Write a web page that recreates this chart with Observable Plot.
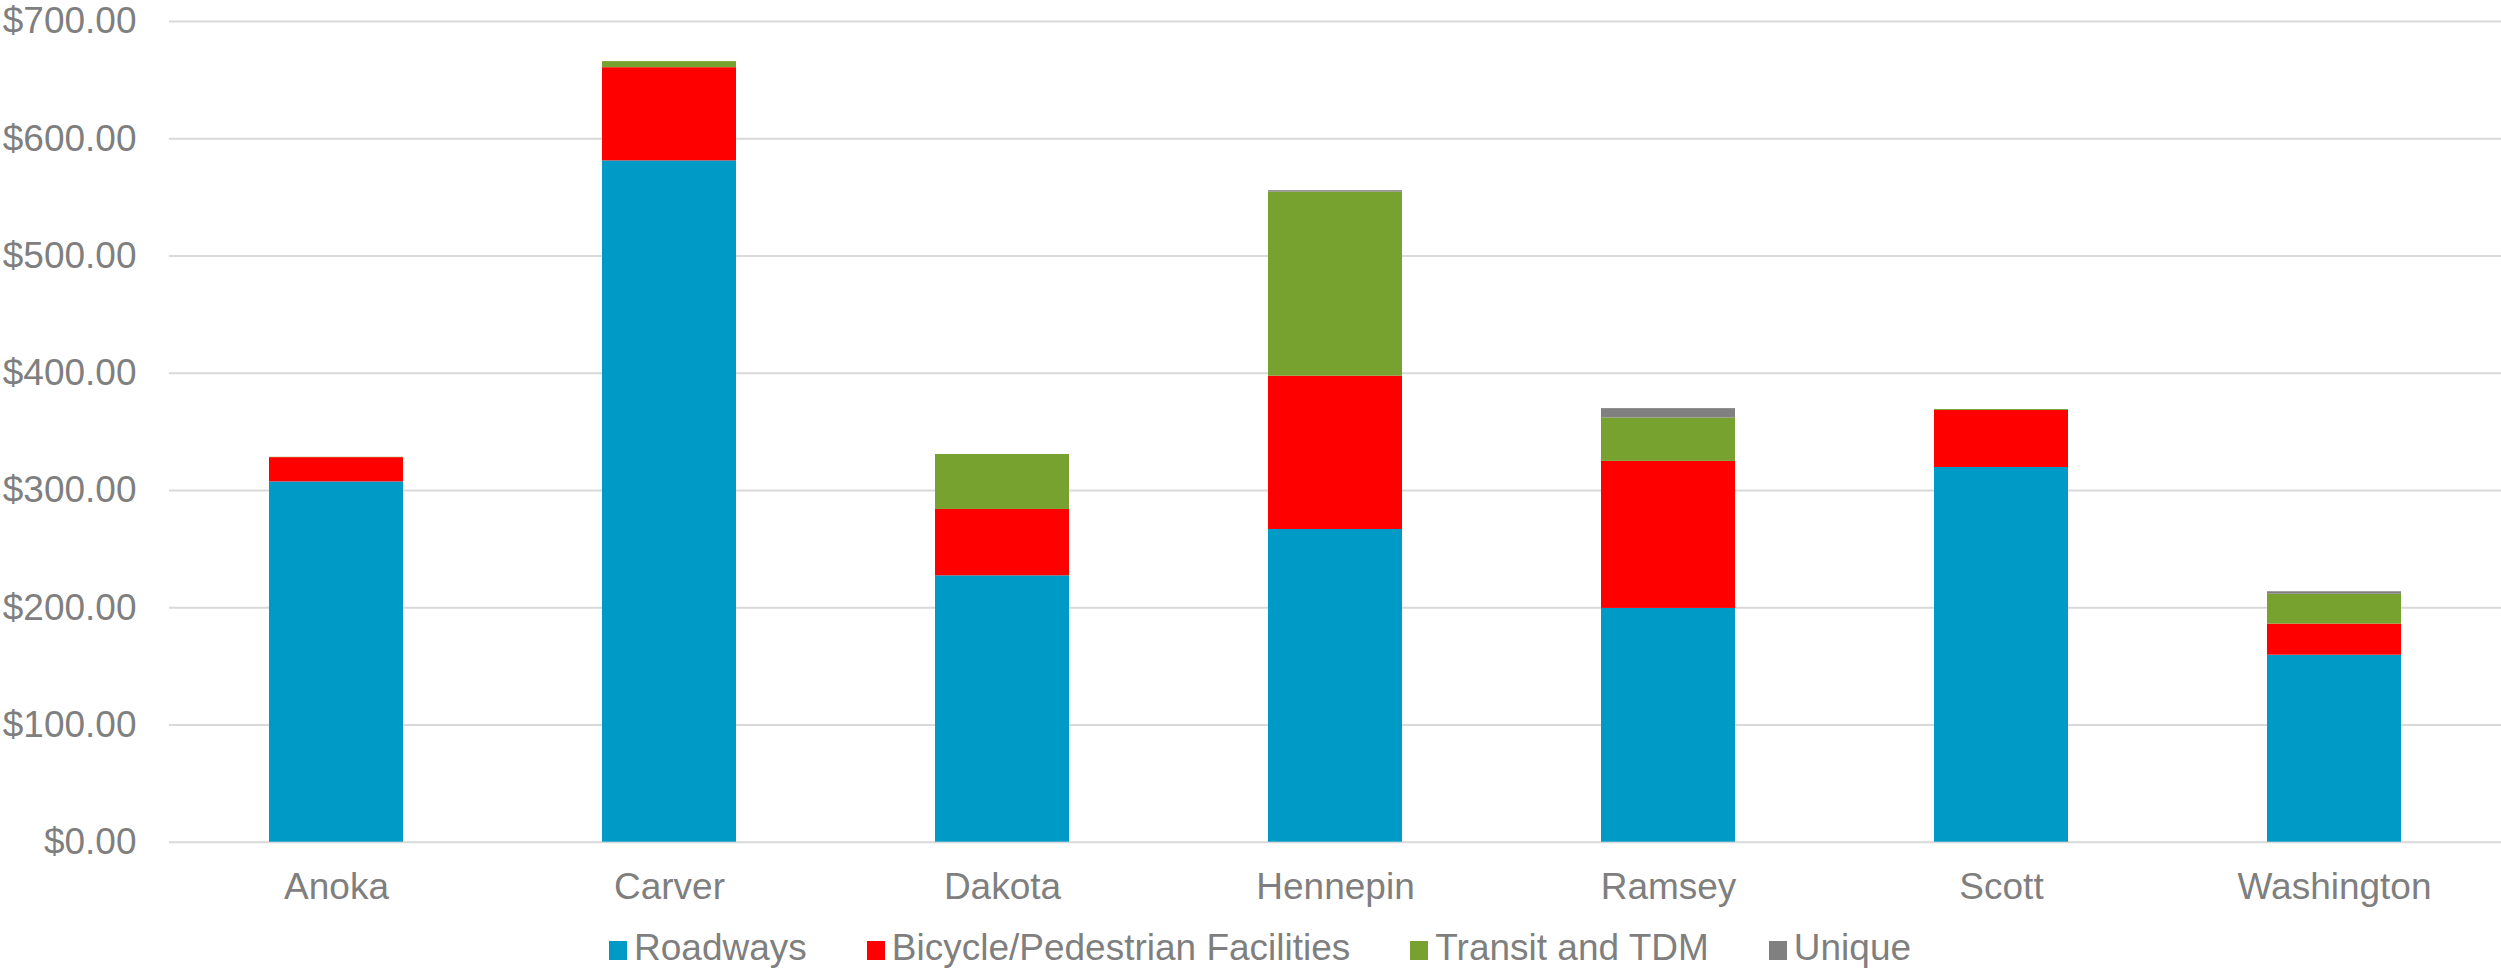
<!DOCTYPE html>
<html>
<head>
<meta charset="utf-8">
<script src="https://cdn.jsdelivr.net/npm/d3@7"></script>
<script src="https://cdn.jsdelivr.net/npm/@observablehq/plot@0.6"></script>
<style>
  html, body { margin: 0; padding: 0; background: #ffffff; }
  #wrap { position: relative; width: 2501px; height: 972px; overflow: hidden; font-family: "Liberation Sans", Arial, sans-serif; }
  #chart svg { display: block; }
  #legend { position: absolute; left: 609px; top: 928.5px; display: flex; align-items: baseline; font-size: 37px; line-height: 37px; color: #7f7f7f; white-space: nowrap; }
  #legend .item { display: inline-block; margin-right: 60px; }
  #legend .sw { display: inline-block; width: 18px; height: 19px; margin-right: 7px; vertical-align: baseline; }
</style>
</head>
<body>
<div id="wrap">
  <div id="chart"></div>
  <div id="legend"></div>
</div>
<script>
const counties = ["Anoka", "Carver", "Dakota", "Hennepin", "Ramsey", "Scott", "Washington"];
const seriesNames = ["Roadways", "Bicycle/Pedestrian Facilities", "Transit and TDM", "Unique"];
const seriesColors = ["#009ac7", "#ff0000", "#78a22f", "#808080"];
const roadways = [307.3, 581.1, 227.2, 266.7, 199.4, 319.6, 159.5];
const bikePed  = [20.7, 79.5, 56.6, 130.8, 125.4, 48.6, 26.5];
const transit  = [0.3, 5.2, 46.9, 157.0, 37.0, 0.8, 25.5];
const unique   = [0, 0, 0, 1.2, 8.0, 0, 2.1];
const yTicks = [0, 100, 200, 300, 400, 500, 600, 700];

const seriesValues = [roadways, bikePed, transit, unique];
const rows = [];
counties.forEach((c, i) => {
  seriesNames.forEach((s, j) => {
    rows.push({county: c, series: s, value: seriesValues[j][i]});
  });
});

const chart = Plot.plot({
  width: 2501,
  height: 915,
  marginLeft: 169,
  marginRight: 0,
  marginTop: 21,
  marginBottom: 73.3,
  style: {fontFamily: "'Liberation Sans', Arial, sans-serif", fontSize: "37px", color: "#7f7f7f", background: "#ffffff"},
  x: {domain: counties, paddingInner: 0.598, paddingOuter: 0.299},
  y: {domain: [0, 700]},
  color: {domain: seriesNames, range: seriesColors},
  marks: [
    Plot.gridY(yTicks, {stroke: "#d9d9d9", strokeOpacity: 1, strokeWidth: 2}),
    Plot.barY(rows, Plot.stackY({order: seriesNames}, {x: "county", y: "value", fill: "series"})),
    Plot.axisY(yTicks, {tickSize: 0, tickPadding: 33, tickFormat: d => "$" + d.toFixed(2), fontSize: 37, fill: "#7f7f7f", label: null}),
    Plot.axisX({tickSize: 0, tickPadding: 30.3, fontSize: 37, fill: "#7f7f7f", label: null})
  ]
});
document.getElementById("chart").appendChild(chart);

const legend = document.getElementById("legend");
seriesNames.forEach((s, j) => {
  const item = document.createElement("span");
  item.className = "item";
  const sw = document.createElement("span");
  sw.className = "sw";
  sw.style.background = seriesColors[j];
  item.appendChild(sw);
  item.appendChild(document.createTextNode(s));
  legend.appendChild(item);
});
</script>
</body>
</html>
